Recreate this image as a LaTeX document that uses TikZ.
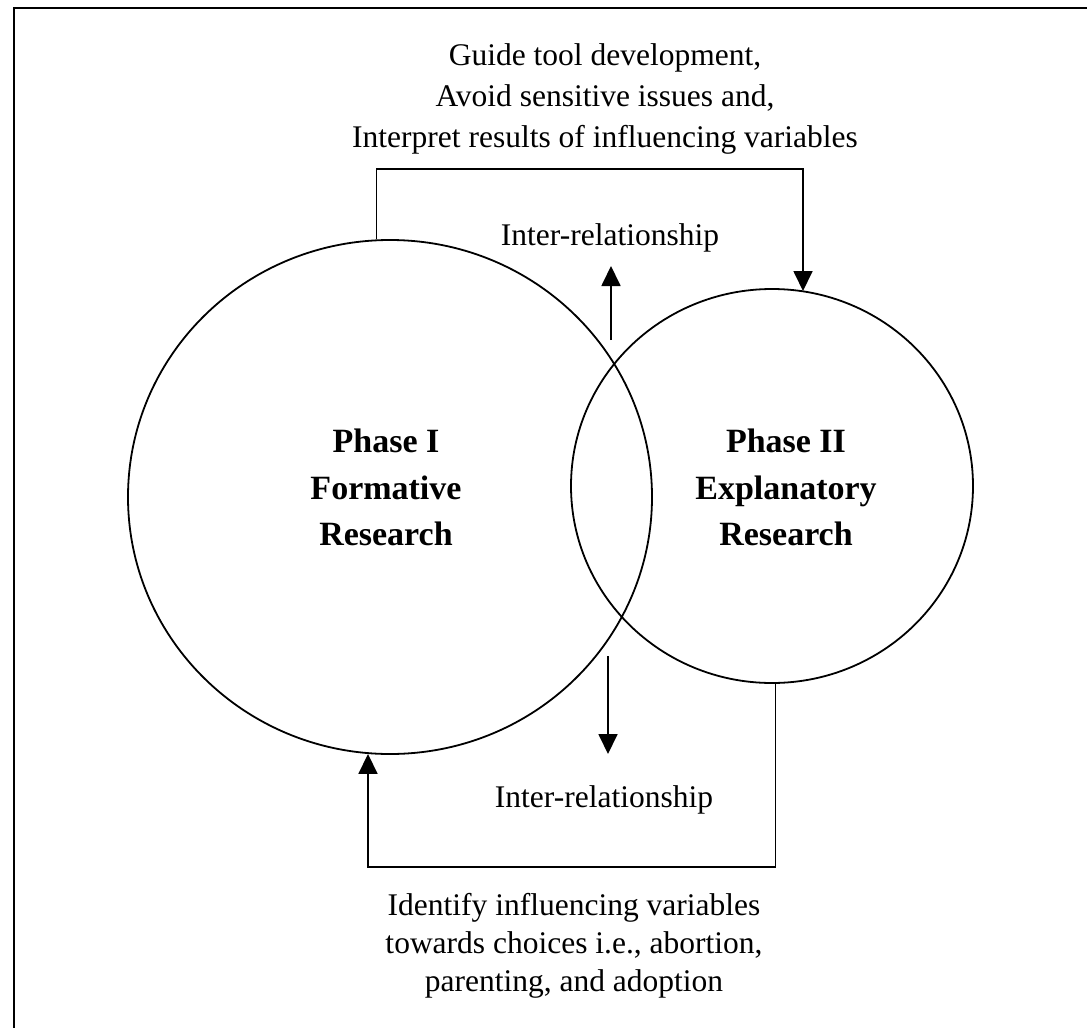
\documentclass[tikz,border=0pt]{standalone}
\usepackage{fontspec}
\setmainfont{Liberation Serif}
\usetikzlibrary{arrows.meta,shapes.geometric}
\begin{document}
\begin{tikzpicture}[x=1pt,y=-1pt,
  line/.style={line width=1.8pt},
  arr/.style={line, -{Triangle[length=20pt,width=19pt]}},
  phase/.style={draw, ellipse, line width=1.8pt, inner sep=0pt},
  txt/.style={inner sep=0pt, align=center, font=\fontsize{31.5}{41}\selectfont},
  btxt/.style={inner sep=0pt, align=center, font=\fontsize{31.5}{38}\selectfont},
  ptxt/.style={inner sep=0pt, align=center, font=\fontsize{34}{46.5}\selectfont\bfseries}]
\useasboundingbox (0,0) rectangle (1087,1028);
\coordinate (bTL) at (14,8);
\coordinate (bTR) at (1087,8);
\coordinate (bBL) at (14,1028);
\draw[line] (bBL) -- (bTL) -- (bTR);
\node[phase, minimum width=524pt, minimum height=514pt] (p1) at (390,497) {};
\node[phase, minimum width=402pt, minimum height=394pt] (p2) at (772,486) {};
\coordinate (tr) at (803,169);
\draw[arr] (p1.93.8) |- (tr) -- (tr |- p2.80.95);
\coordinate (bl) at (368,867);
\draw[arr] (p2.-89.1) |- (bl) -- (bl |- p1.265.1);
\coordinate (u1) at (611,340);
\coordinate (u2) at (611,266);
\draw[arr] (u1) -- (u2);
\coordinate (d1) at (608,656);
\coordinate (d2) at (608,754);
\draw[arr] (d1) -- (d2);
\node[txt, anchor=north] (top) at (605,43.5) {Guide tool development,\\Avoid sensitive issues and,\\Interpret results of influencing variables};
\node[txt, anchor=base] (ir1) at (610,245) {Inter-relationship};
\node[txt, anchor=base] (ir2) at (604,807) {Inter-relationship};
\node[btxt, anchor=north] (bot) at (574,893.5) {Identify influencing variables\\towards choices i.e., abortion,\\parenting, and adoption};
\node[ptxt, anchor=north] (ph1) at (386,429) {Phase I\\Formative\\Research};
\node[ptxt, anchor=north] (ph2) at (786,429) {Phase II\\Explanatory\\Research};
\end{tikzpicture}
\end{document}
